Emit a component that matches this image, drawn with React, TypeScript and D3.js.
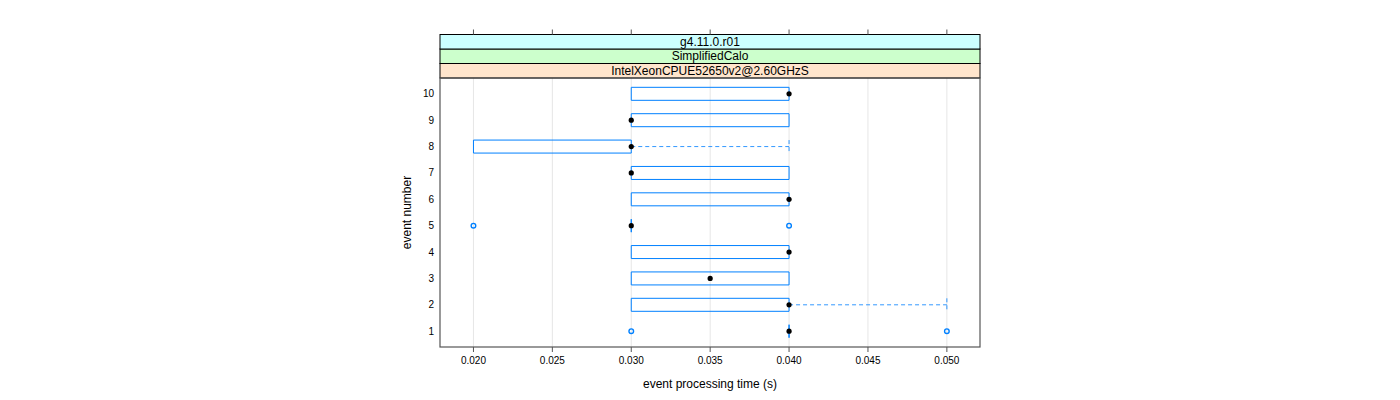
import React from "react";
import * as d3 from "d3";

const events = [1, 2, 3, 4, 5, 6, 7, 8, 9, 10];
const q1 = [0.04, 0.03, 0.03, 0.03, 0.03, 0.03, 0.03, 0.02, 0.03, 0.03];
const medians = [0.04, 0.04, 0.035, 0.04, 0.03, 0.04, 0.03, 0.03, 0.03, 0.04];
const q3 = [0.04, 0.04, 0.04, 0.04, 0.03, 0.04, 0.04, 0.03, 0.04, 0.04];
const whiskLo = [0.04, 0.03, 0.03, 0.03, 0.03, 0.03, 0.03, 0.02, 0.03, 0.03];
const whiskHi = [0.04, 0.05, 0.04, 0.04, 0.03, 0.04, 0.04, 0.04, 0.04, 0.04];
const outliers: number[][] = [[0.03, 0.05], [], [], [], [0.02, 0.04], [], [], [], [], []];
const xTicks = [0.02, 0.025, 0.03, 0.035, 0.04, 0.045, 0.05];
const strips = ["IntelXeonCPUE52650v2@2.60GHzS", "SimplifiedCalo", "g4.11.0.r01"];
const stripColors = ["#ffe5cc", "#ccffcc", "#ccffff"];
const xLabel = "event processing time (s)";
const yLabel = "event number";

export default function App() {
  const W = 1400, H = 400;
  const left = 440, right = 980, top = 78, bottom = 347;
  const x = d3.scaleLinear().domain([0.01788, 0.0521]).range([left, right]);
  const y = d3.scaleLinear().domain([0.4, 10.6]).range([bottom, top]);
  const stripH = 14.5;
  const blue = "#0080ff";
  const axisCol = "#555";
  const font = "Liberation Sans, Arial, Helvetica, sans-serif";
  const hh = 6.5;
  return (
    <svg width={W} height={H} style={{ position: "absolute", left: 0, top: 0 }} fontFamily={font}>
      <rect x={0} y={0} width={W} height={H} fill="#fff" />
      {xTicks.map((t) => (
        <line key={"g" + t} x1={x(t)} x2={x(t)} y1={top} y2={bottom} stroke="#e6e6e6" strokeWidth={1} />
      ))}
      {strips.map((s, i) => {
        const y0 = top - (i + 1) * stripH;
        return (
          <g key={s}>
            <rect x={left} y={y0} width={right - left} height={stripH} fill={stripColors[i]} stroke="#000" strokeWidth={1} />
            <text x={(left + right) / 2} y={y0 + stripH / 2 + 4} textAnchor="middle" fontSize={12}>{s}</text>
          </g>
        );
      })}
      {xTicks.map((t) => (
        <line key={"tt" + t} x1={x(t)} x2={x(t)} y1={top - 3 * stripH} y2={top - 3 * stripH - 5} stroke={axisCol} />
      ))}
      {events.map((e, i) => {
        const cy = y(e);
        const x1 = x(q1[i]), x3 = x(q3[i]);
        return (
          <g key={"b" + e}>
            {whiskLo[i] < q1[i] && (
              <g stroke={blue} strokeDasharray="4,3">
                <line x1={x(whiskLo[i])} x2={x1} y1={cy} y2={cy} />
                <line x1={x(whiskLo[i])} x2={x(whiskLo[i])} y1={cy - hh} y2={cy + hh} />
              </g>
            )}
            {whiskHi[i] > q3[i] && (
              <g stroke={blue} strokeDasharray="4,3" strokeOpacity={0.8}>
                <line x1={x3} x2={x(whiskHi[i])} y1={cy} y2={cy} />
                <line x1={x(whiskHi[i])} x2={x(whiskHi[i])} y1={cy - hh} y2={cy + hh} />
              </g>
            )}
            <path
              d={`M${x1},${cy - hh}H${x3}V${cy + hh}H${x1}Z`}
              fill="none" stroke={blue} strokeWidth={1}
            />
            {outliers[i].map((o) => (
              <circle key={o} cx={x(o)} cy={cy} r={2.3} fill="none" stroke={blue} strokeWidth={1.4} />
            ))}
            <circle cx={x(medians[i])} cy={cy} r={2.6} fill="#000" />
          </g>
        );
      })}
      <rect x={left} y={top} width={right - left} height={bottom - top} fill="none" stroke={axisCol} strokeWidth={1.2} />
      {xTicks.map((t) => (
        <g key={"bt" + t}>
          <line x1={x(t)} x2={x(t)} y1={bottom} y2={bottom + 5} stroke={axisCol} />
          <text x={x(t)} y={bottom + 17} textAnchor="middle" fontSize={10}>{d3.format(".3f")(t)}</text>
        </g>
      ))}
      {events.map((e) => (
        <text key={"yl" + e} x={left - 6} y={y(e) + 3.5} textAnchor="end" fontSize={10}>{e}</text>
      ))}
      <text x={(left + right) / 2} y={388} textAnchor="middle" fontSize={12}>{xLabel}</text>
      <text transform={`translate(411,${(top + bottom) / 2}) rotate(-90)`} textAnchor="middle" fontSize={12}>{yLabel}</text>
    </svg>
  );
}
